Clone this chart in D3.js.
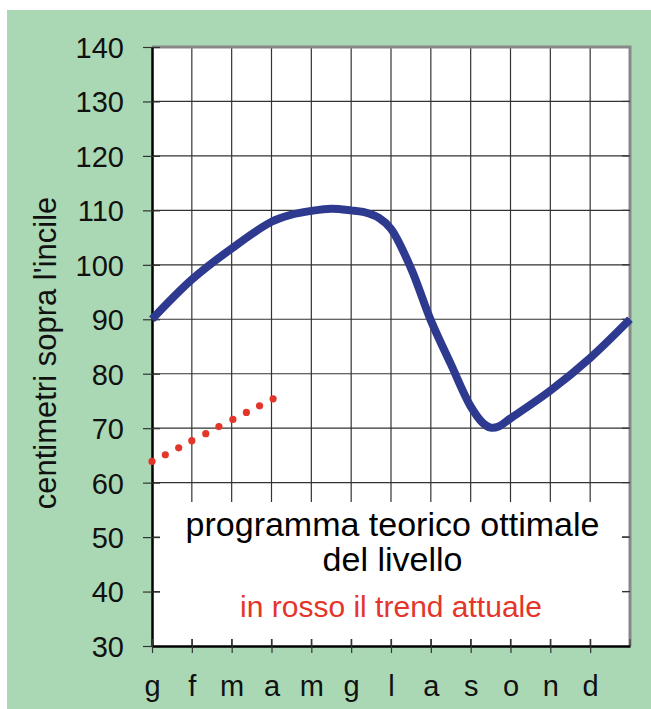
<!DOCTYPE html>
<html>
<head>
<meta charset="utf-8">
<script src="https://cdn.jsdelivr.net/npm/d3@7"></script>
<style>
  body { margin: 0; background: #fff; }
  svg text { font-family: "Liberation Sans", Arial, sans-serif; }
</style>
</head>
<body>
<div class="container"></div>
<script>
// month initials along the bottom (gridline 12 is the next january, no label)
var months = ['g', 'f', 'm', 'a', 'm', 'g', 'l', 'a', 's', 'o', 'n', 'd'];
var yTicks = [30, 40, 50, 60, 70, 80, 90, 100, 110, 120, 130, 140];

// optimal theoretical program (blue line), x in months from january
var progX = [0, 1, 2, 3, 3.5, 4, 4.5, 5, 5.3, 5.7, 6, 6.5, 7, 7.5, 8, 8.3, 8.5, 8.7, 9, 10, 11, 12];
var progY = [90, 97.3, 103.0, 107.9, 109.2, 109.9, 110.3, 110.0, 109.7, 108.6, 106.6, 99.4, 89.8, 81.8, 74.0, 71.0, 70.1, 70.3, 71.8, 76.9, 82.9, 90];

// current trend (red dots)
var trendX = [0, 0.335, 0.67, 1.0, 1.35, 1.68, 2.03, 2.37, 2.70, 3.04];
var trendY = [63.9, 65.1, 66.4, 67.7, 69.0, 70.3, 71.6, 72.9, 74.1, 75.4];

var opts = {
  width: 651,
  height: 709,
  left: 152,
  right: 630,
  top: 47,
  bottom: 646
};

var svg = d3.select('.container').append('svg')
  .attr('width', opts.width)
  .attr('height', opts.height);

// green panel
svg.append('rect')
  .attr('x', 7).attr('y', 10)
  .attr('width', opts.width - 7).attr('height', opts.height - 10)
  .style('fill', '#aad8b4');

var x = d3.scaleLinear().domain([0, 12]).range([opts.left, opts.right]);
var y = d3.scaleLinear().domain([30, 140]).range([opts.bottom, opts.top]);

// plot area
svg.append('rect')
  .attr('x', opts.left).attr('y', opts.top)
  .attr('width', opts.right - opts.left).attr('height', opts.bottom - opts.top)
  .style('fill', '#fff');

// grid
svg.append('g').selectAll('line')
  .data(d3.range(1, 12))
  .enter().append('line')
  .attr('x1', function(d){ return x(d); })
  .attr('x2', function(d){ return x(d); })
  .attr('y1', opts.top).attr('y2', opts.bottom)
  .style('stroke', '#333').style('stroke-width', 1.2);

svg.append('g').selectAll('line')
  .data(yTicks.slice(1, -1))
  .enter().append('line')
  .attr('x1', opts.left).attr('x2', opts.right)
  .attr('y1', function(d){ return y(d); })
  .attr('y2', function(d){ return y(d); })
  .style('stroke', '#333').style('stroke-width', 1.2);

// text box covering the lower grid
svg.append('rect')
  .attr('x', 160).attr('y', 502)
  .attr('width', 462).attr('height', 137)
  .style('fill', '#fff');

// top and right border (grey)
svg.append('path')
  .attr('d', 'M' + opts.left + ',' + opts.top + 'H' + opts.right + 'V' + opts.bottom)
  .style('fill', 'none').style('stroke', '#888').style('stroke-width', 3);

// small inner ticks on the right side
svg.append('g').selectAll('line')
  .data(yTicks.slice(1, -1))
  .enter().append('line')
  .attr('x1', opts.right - 8).attr('x2', opts.right)
  .attr('y1', function(d){ return y(d); })
  .attr('y2', function(d){ return y(d); })
  .style('stroke', '#333').style('stroke-width', 1.2);

// left axis with crossing ticks
var yAxis = d3.axisLeft(y).tickValues(yTicks).tickSizeInner(9).tickSizeOuter(0).tickPadding(20);
var gy = svg.append('g').attr('transform', 'translate(' + opts.left + ',0)').call(yAxis);
gy.select('.domain').style('stroke', '#000').style('stroke-width', 2.5);
gy.selectAll('.tick line').attr('x2', -9).attr('x1', 8).style('stroke', '#333').style('stroke-width', 1.2);
gy.selectAll('.tick text')
  .style('font-size', '29px').style('fill', '#111')
  .attr('x', -28)
  .attr('dy', '0.36em');

// bottom axis
var xAxis = d3.axisBottom(x).tickValues(d3.range(0, 12)).tickFormat(function(d){ return months[d]; })
  .tickSizeInner(7).tickSizeOuter(0).tickPadding(22);
var gx = svg.append('g').attr('transform', 'translate(0,' + opts.bottom + ')').call(xAxis);
gx.select('.domain').style('stroke', '#000').style('stroke-width', 2.5);
gx.selectAll('.tick line').attr('y1', -7).attr('y2', 7).style('stroke', '#333').style('stroke-width', 1.2);
gx.selectAll('.tick text')
  .style('font-size', '29px').style('fill', '#111');
gx.append('line')
  .attr('x1', x(12)).attr('x2', x(12)).attr('y1', -7).attr('y2', 0)
  .style('stroke', '#333');

// axis title
svg.append('text')
  .attr('transform', 'translate(56,353) rotate(-90)')
  .attr('text-anchor', 'middle')
  .style('font-size', '31px').style('fill', '#111')
  .text("centimetri sopra l'incile");

// blue program line
var progData = progX.map(function(d, i){ return [d, progY[i]]; });
var line = d3.line()
  .x(function(d){ return x(d[0]); })
  .y(function(d){ return y(d[1]); })
  .curve(d3.curveCatmullRom.alpha(0.5));

svg.append('path')
  .datum(progData)
  .attr('d', line)
  .style('fill', 'none')
  .style('stroke', '#2e3a8f')
  .style('stroke-width', 8)
  .style('stroke-linejoin', 'round');

// red trend dots
svg.append('g').selectAll('circle')
  .data(trendX.map(function(d, i){ return [d, trendY[i]]; }))
  .enter().append('circle')
  .attr('cx', function(d){ return x(d[0]); })
  .attr('cy', function(d){ return y(d[1]); })
  .attr('r', 3.6)
  .style('fill', '#e4352a');

// caption inside the box
var cx = (183 + 602) / 2;
svg.append('text').attr('x', cx).attr('y', 536)
  .attr('text-anchor', 'middle')
  .style('font-size', '34px').style('fill', '#000')
  .text('programma teorico ottimale');
svg.append('text').attr('x', cx).attr('y', 571)
  .attr('text-anchor', 'middle')
  .style('font-size', '34px').style('fill', '#000')
  .text('del livello');
svg.append('text').attr('x', (240 + 542) / 2).attr('y', 617)
  .attr('text-anchor', 'middle')
  .style('font-size', '30px').style('fill', '#e4352a')
  .text('in rosso il trend attuale');
</script>
</body>
</html>
